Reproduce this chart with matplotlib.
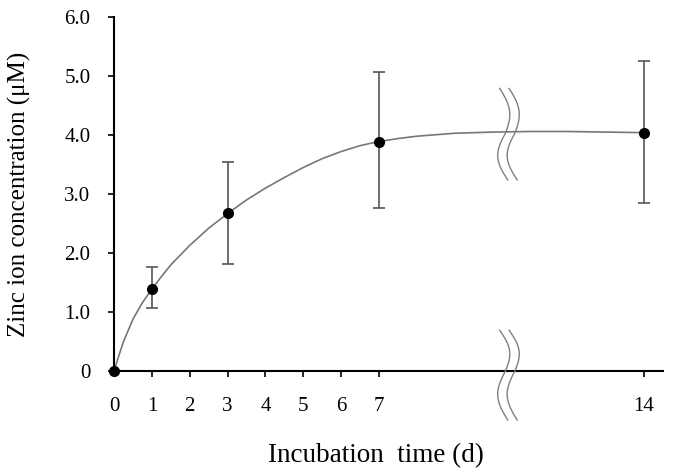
import numpy as np
import matplotlib
matplotlib.use('Agg')
import matplotlib.pyplot as plt

days = [0, 1, 3, 7, 14]
zinc = [0.0, 1.39, 2.67, 3.88, 4.04]
err_hi = [0.0, 1.77, 3.54, 5.06, 5.26]
err_lo = [0.0, 1.07, 1.81, 2.76, 2.85]

# fitted curve
curve_x = [0, 0.1, 0.25, 0.5, 0.75, 1, 1.25, 1.5, 2, 2.5, 3, 3.5, 4, 4.5, 5, 5.5, 6,
           6.5, 7, 7.5, 8, 9, 10, 11, 12, 13, 14]
curve_y = [0, 0.21, 0.50, 0.88, 1.16, 1.39, 1.60, 1.80, 2.13, 2.42, 2.67, 2.90, 3.10,
           3.28, 3.45, 3.60, 3.72, 3.82, 3.89, 3.94, 3.98, 4.03, 4.05, 4.06, 4.06,
           4.05, 4.04]

xticks = [0, 1, 2, 3, 4, 5, 6, 7, 14]
yticks = [0, 1, 2, 3, 4, 5, 6]
ytick_labels = ['0', '1.0', '2.0', '3.0', '4.0', '5.0', '6.0']

plt.rcParams['font.family'] = ['Liberation Serif', 'DejaVu Serif']

fig = plt.figure(figsize=(6.75, 4.73), dpi=100)
ax = fig.add_axes([0.169, 0.2156, 0.813, 0.7484])

ax.plot(curve_x, curve_y, color='#777777', lw=1.2, zorder=2)

yerr = [np.array(zinc) - np.array(err_lo), np.array(err_hi) - np.array(zinc)]
ax.errorbar(days, zinc, yerr=yerr, fmt='none', ecolor='#555555', elinewidth=1.2,
            capsize=4, capthick=1.2, zorder=3)
ax.plot(days, zinc, 'o', color='black', ms=7, zorder=4, clip_on=False)

# axis break marks: two wavy strokes, ")" on top and "(" below the middle
s = np.linspace(0, 1, 40)
px = 1 / 37.8  # data units per pixel along x
for xm, ym, up, down in [(10.34, 4.03, 0.76, 0.79), (10.34, 0.0, 0.69, 0.83)]:
    for dx in (0.0, 0.25):
        x_up = xm + dx + px * (-5.7 * (1 - s) + 7.0 * np.sin(np.pi * s))
        y_up = ym + up * (1 - s)
        x_dn = xm + dx + px * (2.3 * s - 8.8 * np.sin(np.pi * s))
        y_dn = ym - down * s
        ax.plot(np.r_[x_up, x_dn], np.r_[y_up, y_dn], color='#808080', lw=1.0,
                zorder=5, clip_on=False)

ax.set_xlim(0, 14.5)
ax.set_ylim(0, 6)
ax.set_xticks(xticks)
ax.set_xticklabels([str(v) for v in xticks])
ax.set_yticks(yticks)
ax.set_yticklabels(ytick_labels)

for side in ['top', 'right']:
    ax.spines[side].set_visible(False)
for side in ['left', 'bottom']:
    ax.spines[side].set_linewidth(1.5)
    ax.spines[side].set_color('black')

ax.tick_params(axis='x', direction='out', length=4, width=1.2, labelsize=15, pad=15)
ax.tick_params(axis='y', direction='out', length=4, width=1.2, labelsize=15, pad=13)

ax.set_xlabel('Incubation  time (d)', fontsize=19.5)
ax.xaxis.set_label_coords(0.477, -0.205)
ax.set_ylabel('Zinc ion concentration (\u03bcM)', fontsize=18)
ax.yaxis.set_label_coords(-0.152, 0.5)

fig.savefig('out.png', dpi=100)
